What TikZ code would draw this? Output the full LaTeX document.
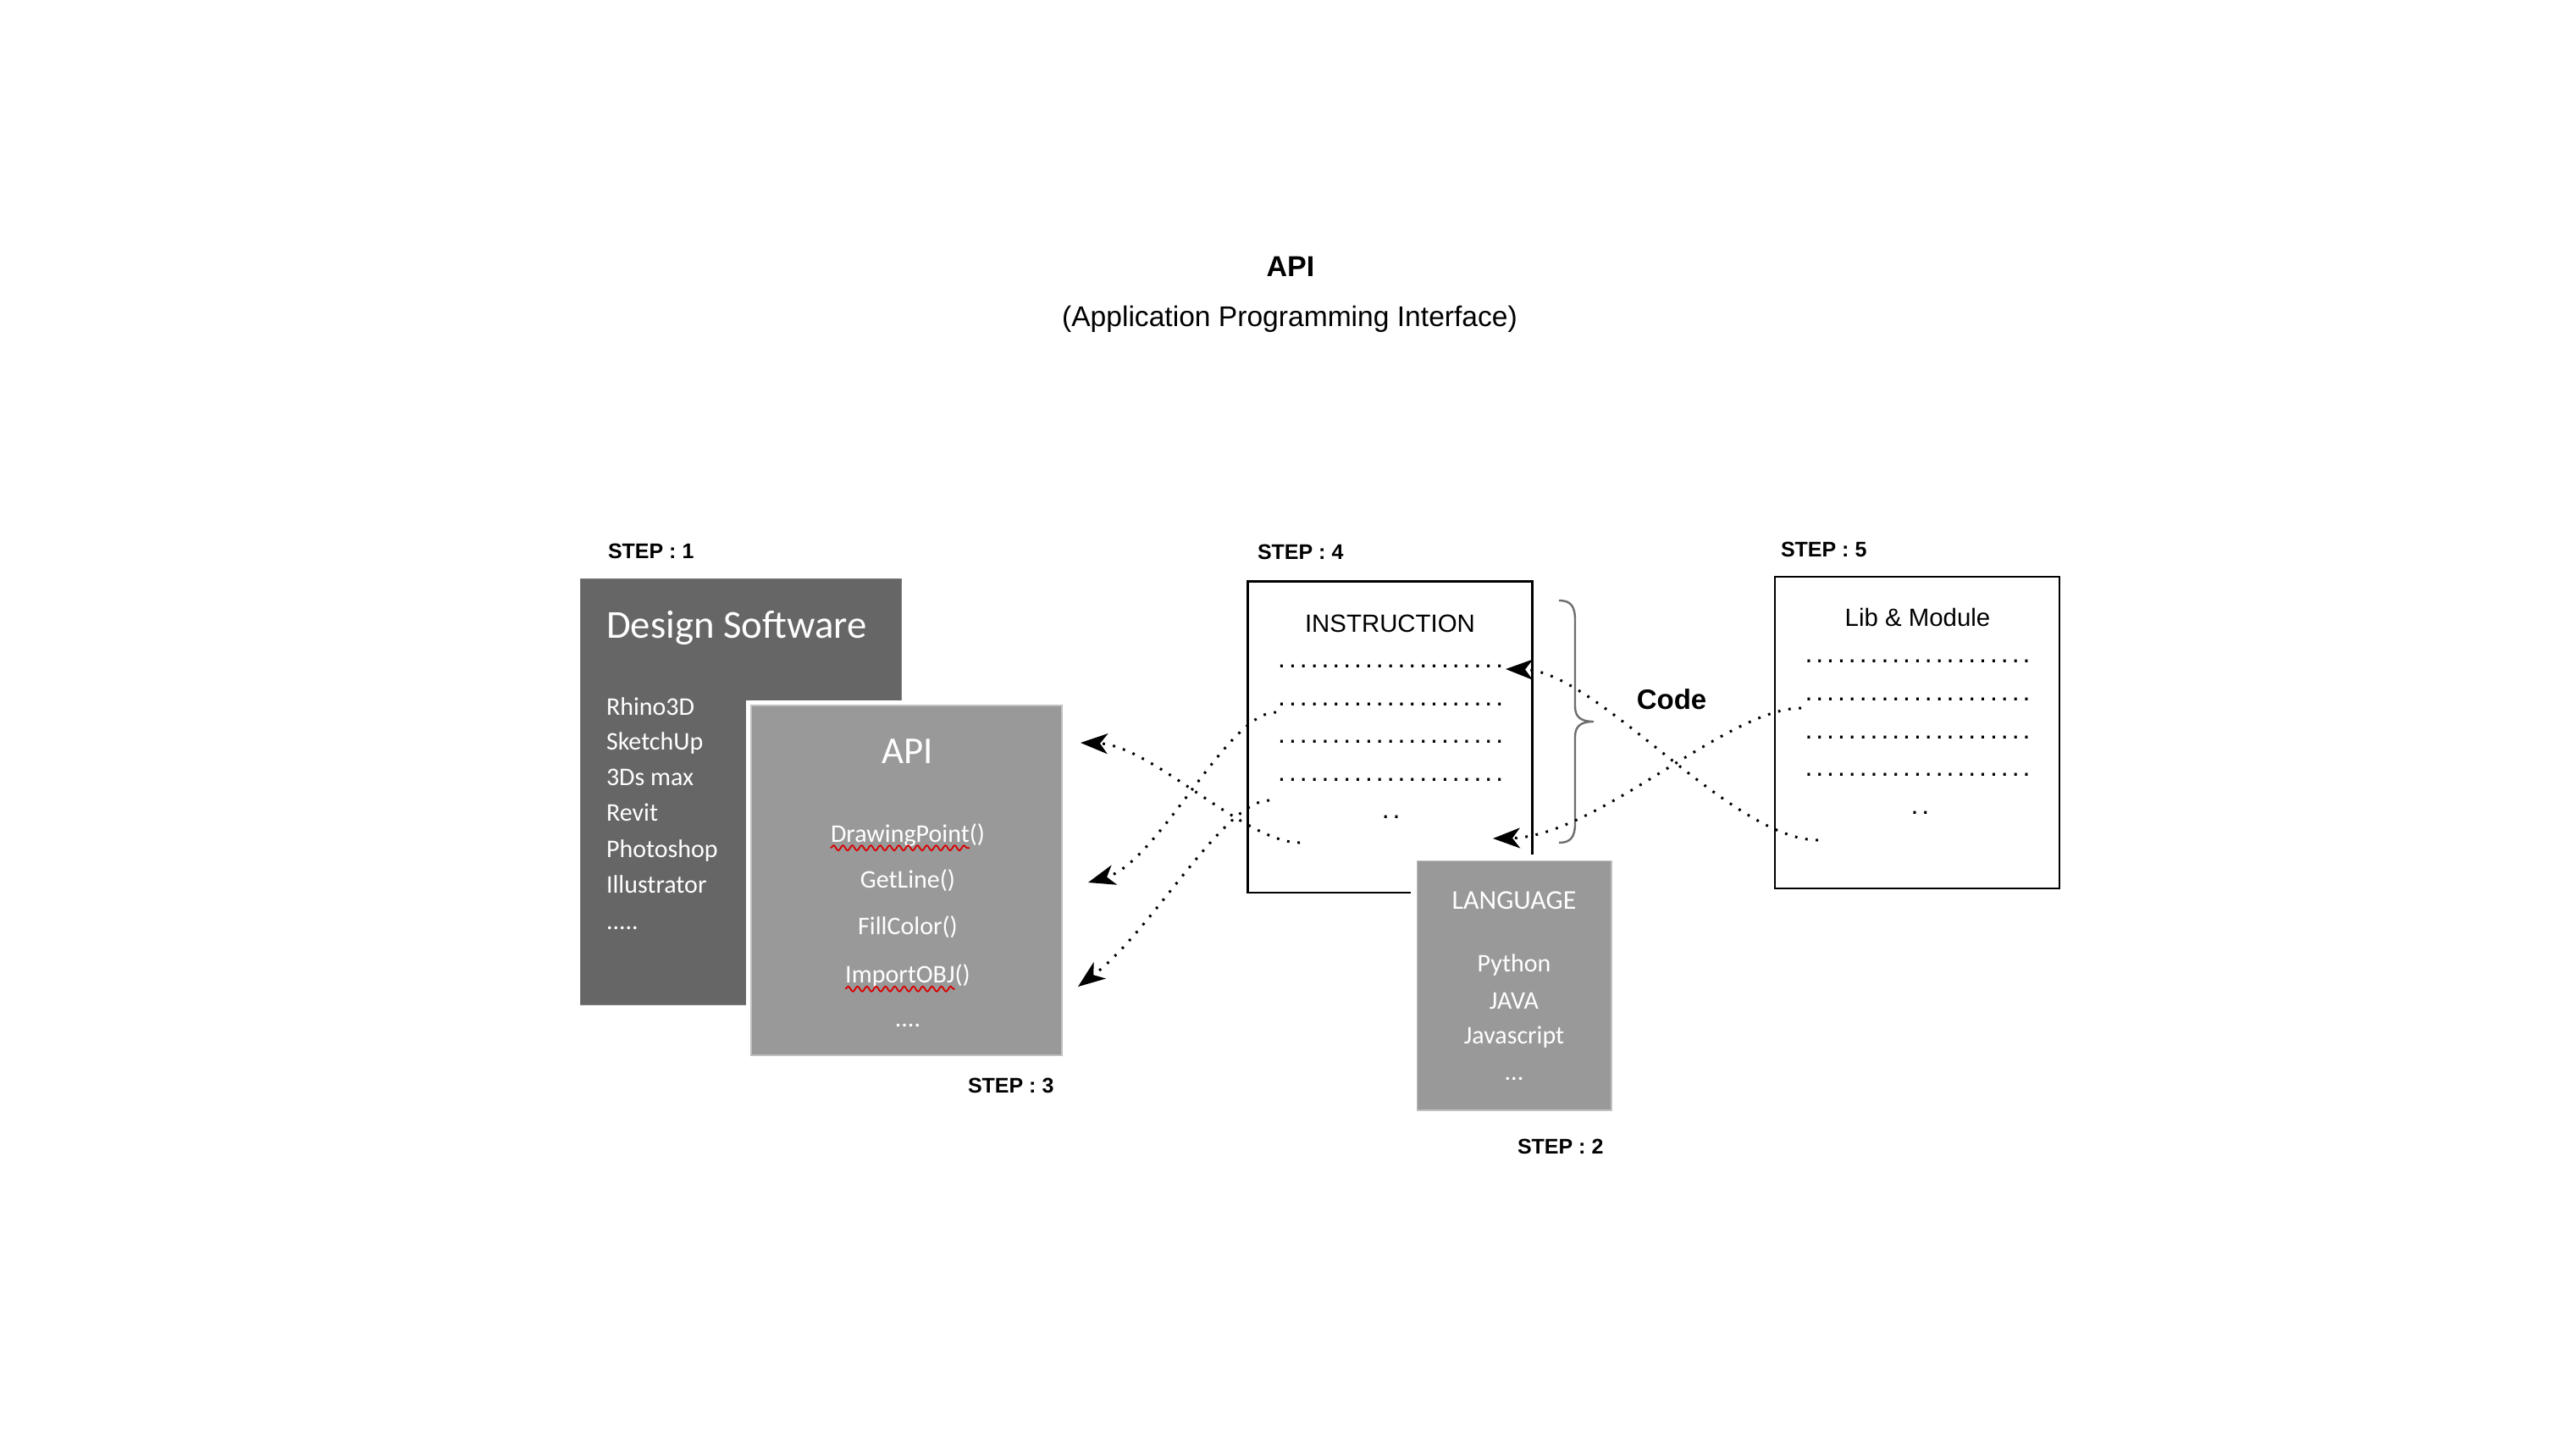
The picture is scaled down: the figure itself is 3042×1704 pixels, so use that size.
\documentclass[tikz,border=0pt]{standalone}
\usepackage{fontspec}
\setmainfont{Liberation Sans}
\newfontfamily\carl{Carlito}
\usetikzlibrary{arrows.meta,decorations.pathmorphing}
\definecolor{darkbox}{RGB}{102,102,102}
\definecolor{darkedge}{RGB}{125,125,125}
\definecolor{midbox}{RGB}{153,153,153}
\definecolor{midedge}{RGB}{192,192,192}
\definecolor{bracegray}{RGB}{110,110,110}
\newlength\dotgap
\setlength\dotgap{1.98pt}
\newlength\sqa
\newlength\sqb
\newcommand\periods[1]{\foreach \i in {2,...,#1}{.\kern\dotgap}.}
\begin{document}
\settowidth\sqa{\carl\fontsize{15}{18}\selectfont DrawingPoint}%
\settowidth\sqb{\carl\fontsize{15}{18}\selectfont ImportOBJ}%
\begin{tikzpicture}[x=0.5pt,y=-0.5pt,
  every node/.style={inner sep=0pt,outer sep=0pt},
  steplabel/.style={font=\fontsize{12.5}{15}\bfseries, anchor=base west},
  boxtitle/.style={font=\fontsize{14.7}{18}\selectfont, anchor=base},
  dotrow/.style={font=\fontsize{16}{18}\selectfont, anchor=base west},
  dsitem/.style={font=\carl\fontsize{15}{18}\selectfont, text=white, anchor=base west},
  citem/.style={font=\carl\fontsize{15}{18}\selectfont, text=white, anchor=base},
  darkpanel/.style={draw=darkedge, line width=0.5pt, fill=darkbox, rectangle},
  midpanel/.style={draw=midedge, line width=0.6pt, fill=midbox, rectangle},
  outlinebox/.style={draw=black, line width=1.4pt, fill=white, rectangle},
  conn/.style={draw=black, line width=1.5pt, line cap=butt, dash pattern=on 1.4pt off 4.8pt,
    -{Stealth[length=16pt,width=12pt,inset=4.5pt]}},
  squig/.style={draw=red!85!black, line width=0.9pt, decorate,
    decoration={snake, amplitude=1.5pt, segment length=5.5pt}},
  bracestyle/.style={draw=bracegray, line width=1.2pt}]
\useasboundingbox (0,0) rectangle (3042,1704);
\fill[white] (0,0) rectangle (3042,1704);

% title
\node[font=\fontsize{17}{20}\bfseries, anchor=base] (title) at (1524,326) {API};
\node[font=\fontsize{16.8}{20}\selectfont, anchor=base] (subtitle) at (1523,385) {(Application Programming Interface)};

% STEP 1 : design software
\node[steplabel] (s1) at (718,659) {STEP : 1};
\node[darkpanel, minimum width=189.25pt, minimum height=251.5pt] (ds) at (874.75,934.5) {};
\node[font=\carl\fontsize{23.4}{28}\selectfont, text=white, anchor=base west] (dst) at (716,753.5) {Design Software};
\node[dsitem] (ds1) at (716,844) {Rhino3D};
\node[dsitem] (ds2) at (716,885.5) {SketchUp};
\node[dsitem] (ds3) at (716,927.5) {3Ds max};
\node[dsitem] (ds4) at (716,969.5) {Revit};
\node[dsitem] (ds5) at (716,1012) {Photoshop};
\node[dsitem] (ds6) at (716,1054) {Illustrator};
\node[dsitem] (ds7) at (716,1097) {.....};

% STEP 3 : API
\node[midpanel, minimum width=183.5pt, minimum height=206.5pt,
  preaction={draw=white, line width=6pt}] (api) at (1070.5,1039.5) {};
\node[font=\carl\fontsize{22.4}{26}\selectfont, text=white, anchor=base] (apit) at (1072,901) {API};
\node[citem] (ap1) at (1072,994) {DrawingPoint()};
\node[citem] (ap2) at (1072,1048) {GetLine()};
\node[citem] (ap3) at (1072,1103) {FillColor()};
\node[citem] (ap4) at (1072,1160.5) {ImportOBJ()};
\node[citem] (ap5) at (1072,1212) {....};
\draw[squig] ([yshift=-3.6pt]ap1.base west) -- ++(\the\sqa,0pt);
\draw[squig] ([yshift=-3.6pt]ap4.base west) -- ++(\the\sqb,0pt);
\node[steplabel] (s3) at (1143,1290) {STEP : 3};

% STEP 4 : instruction
\node[steplabel] (s4) at (1485,660) {STEP : 4};
\node[outlinebox, minimum width=168.15pt, minimum height=183.8pt] (ins) at (1641.5,870.2) {};
\node[boxtitle] (inst) at (1641.5,746) {INSTRUCTION};
\node[dotrow] (ir1) at (1509.2,788.5) {\periods{21}};
\node[dotrow] (ir2) at (1509.2,833) {\periods{21}};
\node[dotrow] (ir3) at (1509.2,877.5) {\periods{21}};
\node[dotrow] (ir4) at (1509.2,922) {\periods{21}};
\node[dotrow] (ir5) at (1631.8,966.5) {\periods{2}};

% STEP 2 : language
\node[midpanel, minimum width=114.75pt, minimum height=147.2pt,
  preaction={draw=white, line width=8pt}] (lang) at (1788.25,1163.8) {};
\node[font=\carl\fontsize{16}{19}\selectfont, text=white, anchor=base] (langt) at (1788,1073) {LANGUAGE};
\node[citem] (lg1) at (1788,1147.7) {Python};
\node[citem] (lg2) at (1788,1191) {JAVA};
\node[citem] (lg3) at (1788,1232) {Javascript};
\node[citem] (lg4) at (1788,1275) {...};
\node[steplabel] (s2) at (1792,1362) {STEP : 2};

% STEP 5 : lib & module
\node[steplabel] (s5) at (2103,657) {STEP : 5};
\node[outlinebox, minimum width=168pt, minimum height=184pt] (lib) at (2264,865) {};
\node[boxtitle] (libt) at (2264.5,739) {Lib \& Module};
\node[dotrow] (lr1) at (2131.5,782) {\periods{21}};
\node[dotrow] (lr2) at (2131.5,827) {\periods{21}};
\node[dotrow] (lr3) at (2131.5,872) {\periods{21}};
\node[dotrow] (lr4) at (2131.5,916.3) {\periods{21}};
\node[dotrow] (lr5) at (2256.5,961.3) {\periods{2}};

% brace and label
\draw[bracestyle] (1841,709) .. controls (1855,709) and (1860,716) .. (1860,732)
  -- (1860,834) .. controls (1860,846) and (1866,852) .. (1882,852)
  .. controls (1866,852) and (1860,858) .. (1860,870)
  -- (1860,972) .. controls (1860,988) and (1855,995) .. (1841,995);
\node[font=\fontsize{16.5}{20}\bfseries, anchor=base] (code) at (1974,837) {Code};

% connector end points
\coordinate (a0) at (2147,992);
\coordinate (a1) at (1778,790);
\coordinate (b0) at (2127,836);
\coordinate (b1) at (1763,990);
\coordinate (c0) at (1535,995);
\coordinate (c1) at (1276,877);
\coordinate (d0) at (1507,841);
\coordinate (d1) at (1285,1042);
\coordinate (e0) at (1499,945);
\coordinate (e1) at (1273,1165);

\draw[conn] (a0) .. controls (2045,992) and (1885,792) .. (a1);
\draw[conn] (b0) .. controls (2040,836) and (1885,988) .. (b1);
\draw[conn] (c0) .. controls (1470,995) and (1360,880) .. (c1);
\draw[conn] (d0) .. controls (1450,840) and (1368,1018) .. (d1);
\draw[conn] (e0) .. controls (1445,945) and (1360,1100) .. (e1);
\end{tikzpicture}
\end{document}
